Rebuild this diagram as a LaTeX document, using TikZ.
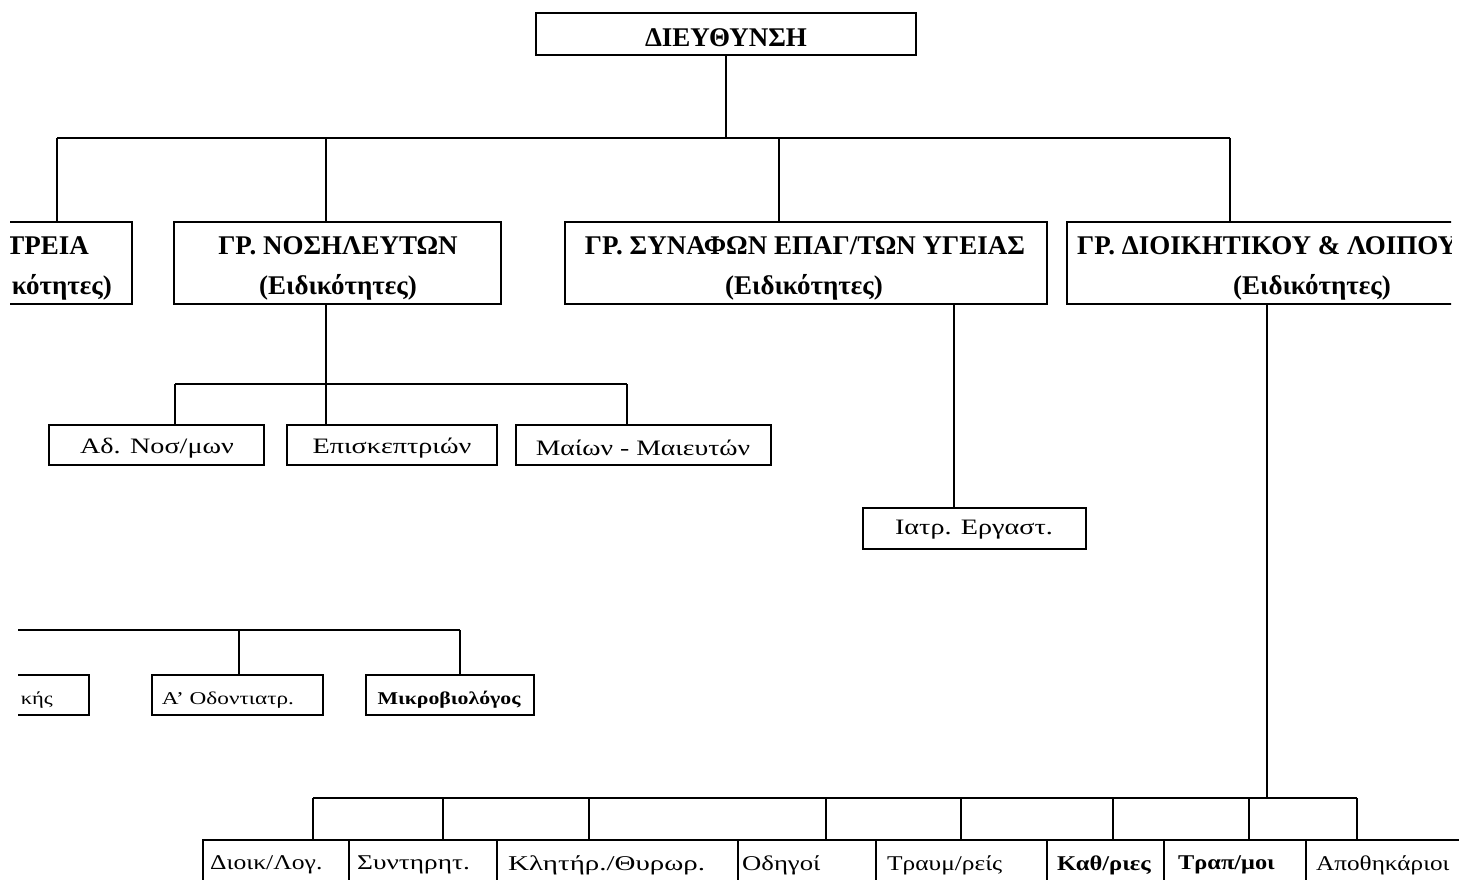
\documentclass[tikz,border=0pt]{standalone}
\usepackage{fontspec}
\usepackage{graphicx}
\setmainfont{Liberation Serif}
\newcommand{\hstr}[2]{\scalebox{#1}[1]{#2}}
\begin{document}
\begin{tikzpicture}[x=1pt,y=-1pt,
  ln/.style={line width=1.9pt, draw=black},
  boxs/.style={draw=black, line width=1.9pt, inner sep=0pt},
  hd/.style={inner sep=0pt, font=\fontsize{27}{32}\selectfont\bfseries},
  tx/.style={inner sep=0pt, font=\fontsize{22}{26}\selectfont},
  sm/.style={inner sep=0pt, font=\fontsize{18}{22}\selectfont},
  bt/.style={inner sep=0pt, anchor=west, font=\fontsize{21}{25}\selectfont}]
\useasboundingbox (0,0) rectangle (1459,880);
\fill[white] (0,0) rectangle (1459,880);
\begin{scope}
\clip (10,0) -- (1451,0) -- (1451,780) -- (1459,780) -- (1459,880) -- (18,880) -- (18,560) -- (10,560) -- cycle;
% top
\node[boxs, minimum width=380, minimum height=42] (dir) at (726,34) {};
\node[hd] (dirt) at (726,38) {ΔΙΕΥΘΥΝΣΗ};
% row 2 boxes
\node[boxs, minimum width=222, minimum height=82] (b1) at (21,263) {};
\node[boxs, minimum width=327, minimum height=82] (b2) at (337.5,263) {};
\node[boxs, minimum width=482, minimum height=82] (b3) at (806,263) {};
\node[boxs, minimum width=493, minimum height=82] (b4) at (1313.5,263) {};
\node[hd, anchor=east] (b1a) at (89,246) {ΤΡΕΙΑ};
\node[hd, anchor=east] (b1b) at (112,287) {κότητες)};
\node[hd] (b2a) at (338,246) {ΓΡ. ΝΟΣΗΛΕΥΤΩΝ};
\node[hd] (b2b) at (338,287) {(Ειδικότητες)};
\node[hd] (b3a) at (805,246) {ΓΡ. ΣΥΝΑΦΩΝ ΕΠΑΓ/ΤΩΝ ΥΓΕΙΑΣ};
\node[hd] (b3b) at (804,287) {(Ειδικότητες)};
\node[hd, anchor=west] (b4a) at (1077,246) {ΓΡ. ΔΙΟΙΚΗΤΙΚΟΥ \& ΛΟΙΠΟΥ};
\node[hd] (b4b) at (1312,287) {(Ειδικότητες)};
% connectors to row 2
\coordinate (j1) at (57,138);
\coordinate (j2) at (326,138);
\coordinate (j3) at (779,138);
\coordinate (j4) at (1230,138);
\draw[ln] (dir.south) -- (dir.south |- j1);
\draw[ln] (j1) -- (j4);
\draw[ln] (j1) -- (j1 |- b1.north);
\draw[ln] (j2) -- (j2 |- b2.north);
\draw[ln] (j3) -- (j3 |- b3.north);
\draw[ln] (j4) -- (j4 |- b4.north);
% nurse subtree
\node[boxs, minimum width=215, minimum height=40] (s1) at (156.5,445) {};
\node[boxs, minimum width=210, minimum height=40] (s2) at (392,445) {};
\node[boxs, minimum width=255, minimum height=40] (s3) at (643.5,445) {};
\node[tx] (s1t) at (157,448) {\hstr{1.28}{Αδ. Νοσ/μων}};
\node[tx] (s2t) at (392,448) {\hstr{1.28}{Επισκεπτριών}};
\node[tx] (s3t) at (643,448) {\hstr{1.26}{Μαίων - Μαιευτών}};
\coordinate (k) at (326,384);
\coordinate (kl) at (175,384);
\coordinate (kr) at (627,384);
\draw[ln] (k |- b2.south) -- (k |- s2.north);
\draw[ln] (kl) -- (kr);
\draw[ln] (kl) -- (kl |- s1.north);
\draw[ln] (kr) -- (kr |- s3.north);
% lab
\node[boxs, minimum width=223, minimum height=41] (lab) at (974.5,528.5) {};
\node[tx] (labt) at (974,530) {\hstr{1.28}{Ιατρ. Εργαστ.}};
\coordinate (m) at (954,420);
\draw[ln] (m |- b3.south) -- (m |- lab.north);
% row 3
\node[boxs, minimum width=149, minimum height=40] (r1) at (14.5,695) {};
\node[boxs, minimum width=171, minimum height=40] (r2) at (237.5,695) {};
\node[boxs, minimum width=168, minimum height=40] (r3) at (450,695) {};
\node[sm, anchor=east] (r1t) at (53,700) {\hstr{1.25}{κής}};
\node[sm] (r2t) at (228,700) {\hstr{1.29}{Α' Οδοντιατρ.}};
\node[sm, font=\fontsize{18}{22}\selectfont\bfseries] (r3t) at (449,700) {\hstr{1.21}{Μικροβιολόγος}};
\coordinate (p0) at (0,630);
\coordinate (p1) at (239,630);
\coordinate (p2) at (460,630);
\draw[ln] (p0) -- (p2);
\draw[ln] (p1) -- (p1 |- r2.north);
\draw[ln] (p2) -- (p2 |- r3.north);
% row 4
\node[boxs, minimum width=146, minimum height=80] (q1) at (276,880) {};
\node[boxs, minimum width=148, minimum height=80] (q2) at (423,880) {};
\node[boxs, minimum width=241, minimum height=80] (q3) at (617.5,880) {};
\node[boxs, minimum width=138, minimum height=80] (q4) at (807,880) {};
\node[boxs, minimum width=171, minimum height=80] (q5) at (961.5,880) {};
\node[boxs, minimum width=117, minimum height=80] (q6) at (1105.5,880) {};
\node[boxs, minimum width=142, minimum height=80] (q7) at (1235,880) {};
\node[boxs, minimum width=214, minimum height=80] (q8) at (1413,880) {};
\node[bt] (q1t) at (210,865) {\hstr{1.22}{Διοικ/Λογ.}};
\node[bt] (q2t) at (357,865) {\hstr{1.3}{Συντηρητ.}};
\node[bt] (q3t) at (508,865) {\hstr{1.38}{Κλητήρ./Θυρωρ.}};
\node[bt] (q4t) at (742,865) {\hstr{1.27}{Οδηγοί}};
\node[bt] (q5t) at (887,865) {\hstr{1.21}{Τραυμ/ρείς}};
\node[bt, font=\fontsize{21}{25}\selectfont\bfseries] (q6t) at (1057,865) {\hstr{1.17}{Καθ/ριες}};
\node[bt, font=\fontsize{21}{25}\selectfont\bfseries] (q7t) at (1178,865) {\hstr{1.16}{Τραπ/μοι}};
\node[bt] (q8t) at (1316,865) {\hstr{1.2}{Αποθηκάριοι}};
\coordinate (v) at (1267,798);
\draw[ln] (v |- b4.south) -- (v);
\coordinate (h1) at (313,798);
\coordinate (h2) at (443,798);
\coordinate (h3) at (589,798);
\coordinate (h4) at (826,798);
\coordinate (h5) at (961,798);
\coordinate (h6) at (1113,798);
\coordinate (h7) at (1249,798);
\coordinate (h8) at (1357,798);
\draw[ln] (h1) -- (h8);
\foreach \i in {1,...,8} {\draw[ln] (h\i) -- (h\i |- q1.north);}
\end{scope}
\end{tikzpicture}
\end{document}
